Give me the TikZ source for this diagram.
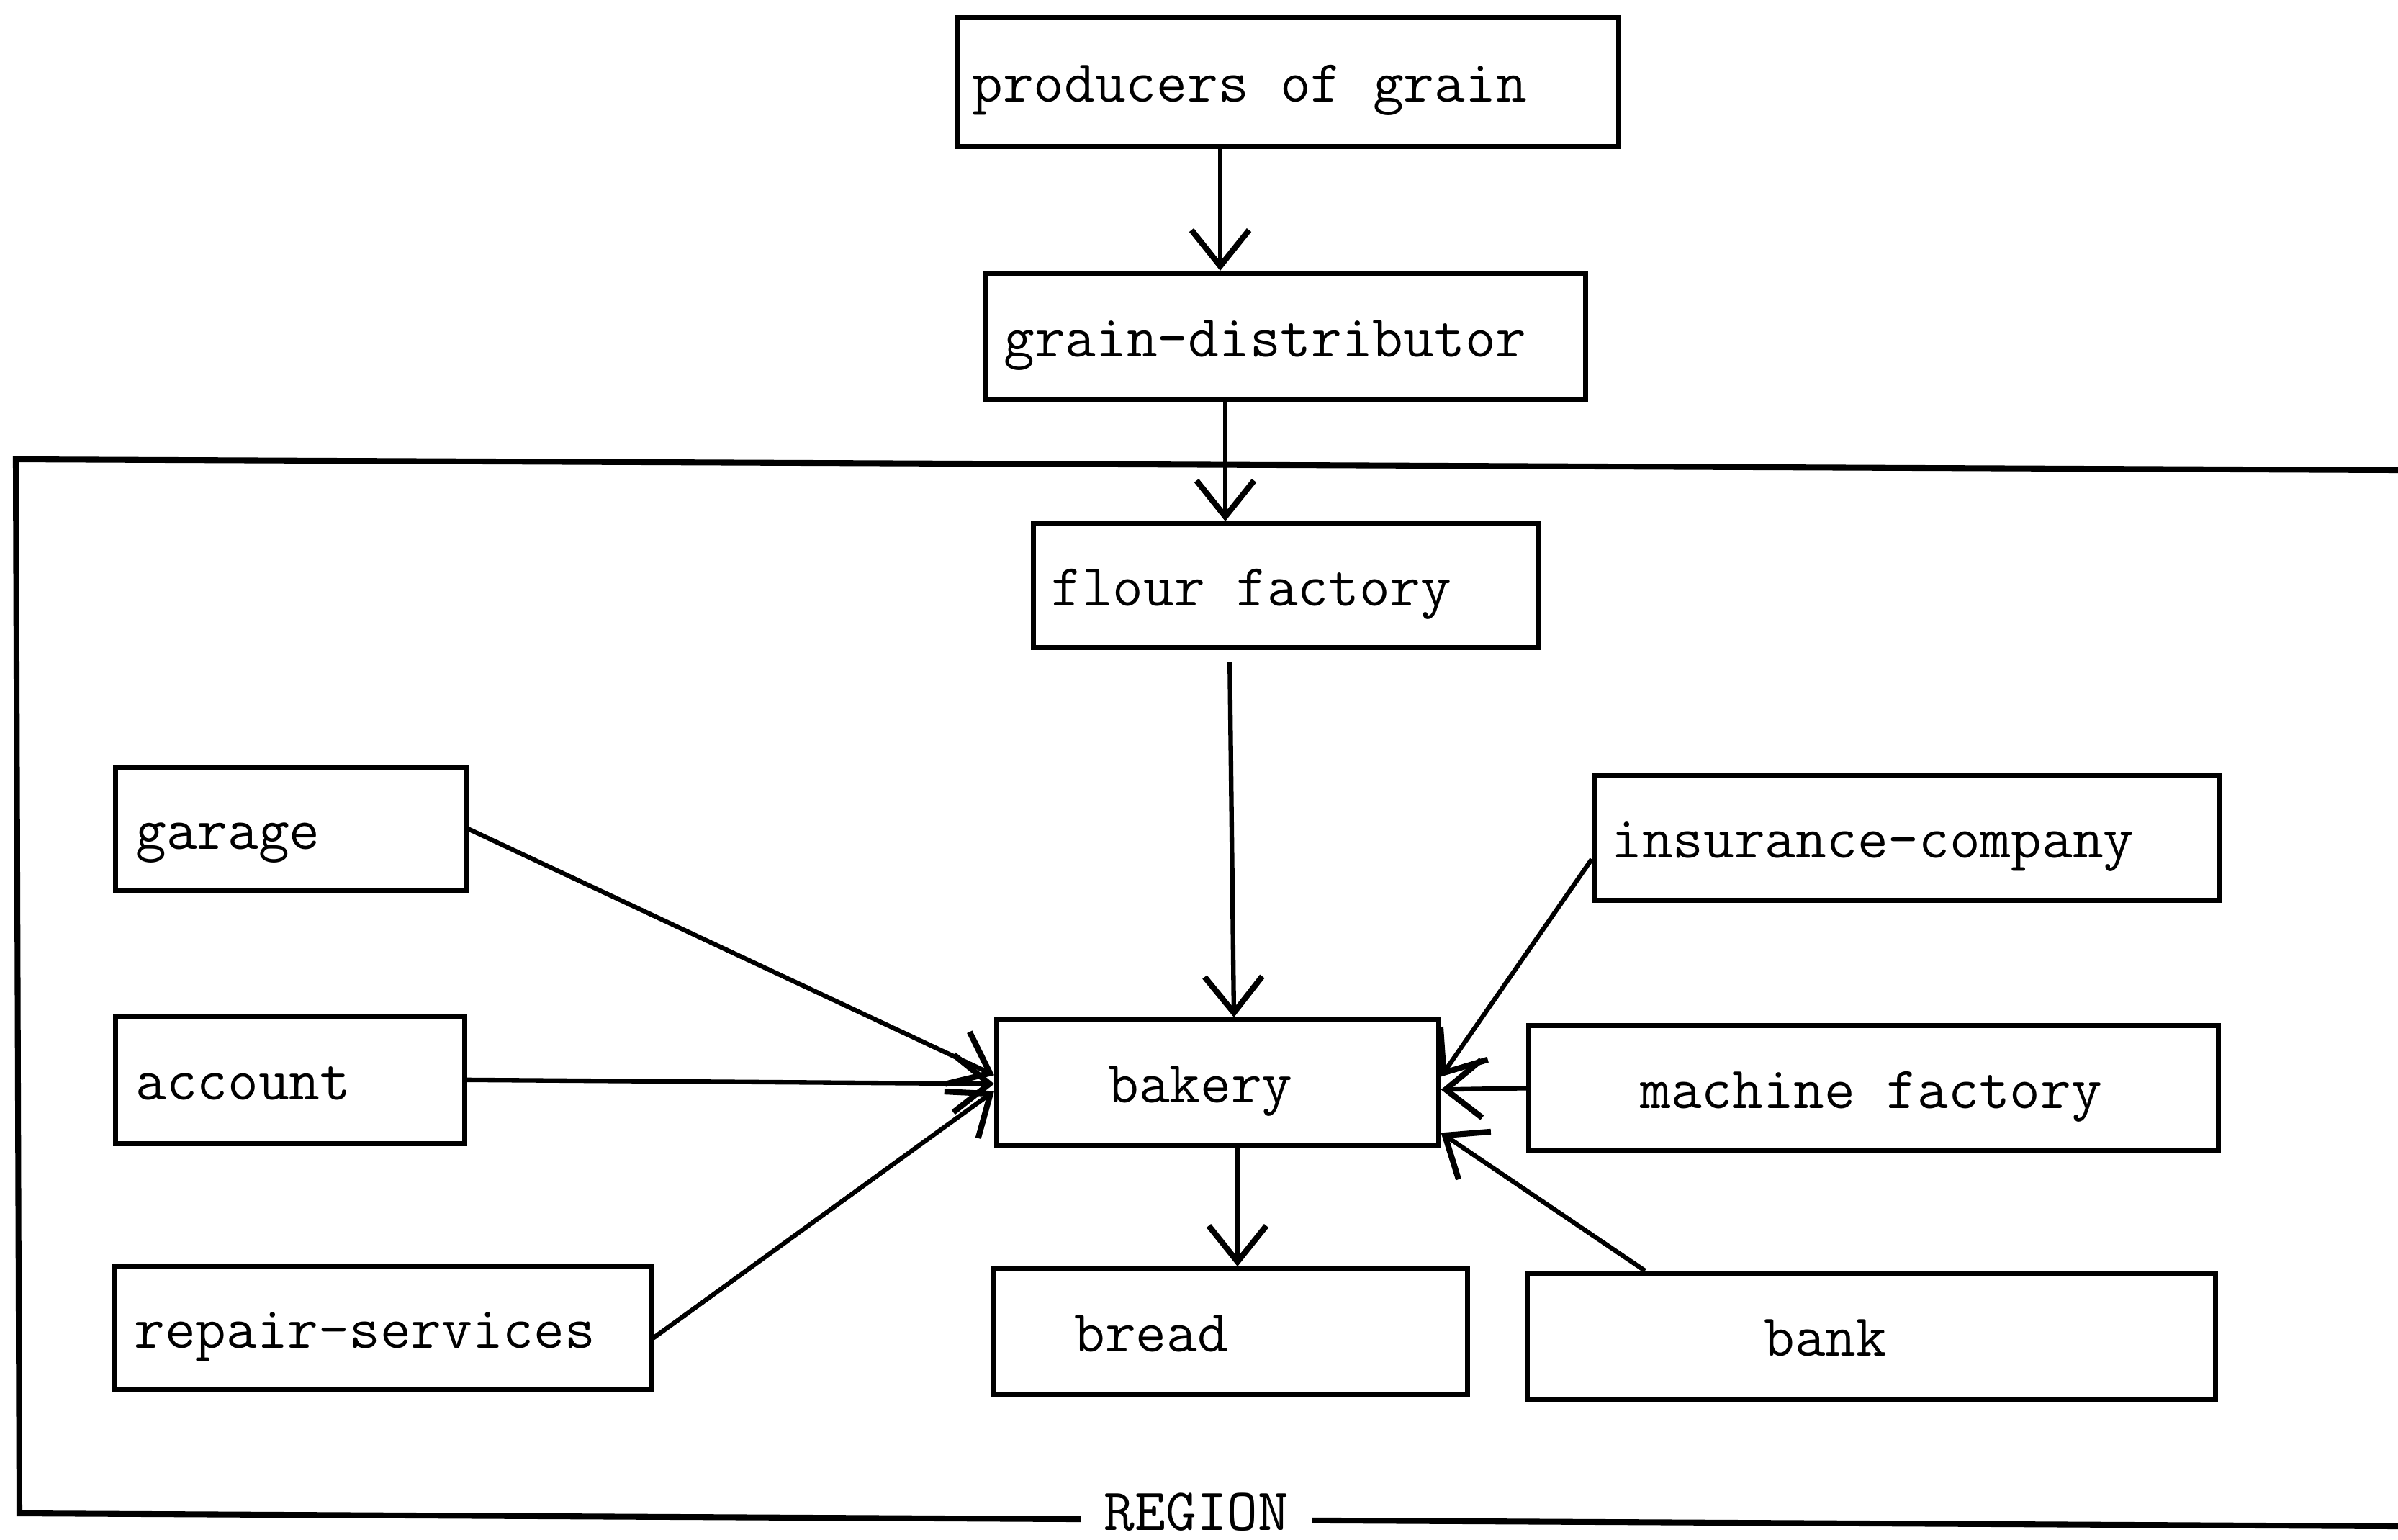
\documentclass[tikz,border=0pt]{standalone}
\usepackage{fontspec}
\usetikzlibrary{arrows.meta,calc}
\newcommand\myttfont{\fontsize{23.6pt}{28pt}\selectfont\ttfamily}
\newcommand\tsp{\kern0.525em\relax}
\tikzset{
  tfont/.style={font=\myttfont},
  box/.style={draw, line width=1.9pt, rectangle, inner xsep=0pt, inner ysep=0pt,
    align=left, anchor=north west, tfont,
    text height=0.7cm, text depth=0.14cm},
  conn/.style={line width=1.8pt, -{Straight Barb[length=0.5cm, width=0.8cm, line width=2.3pt]}},
  frame/.style={line width=2.3pt},
  regionlbl/.style={fill=white, inner xsep=0.33cm, inner ysep=0.05cm, anchor=base, tfont},
}
\begin{document}
\begin{tikzpicture}
\useasboundingbox (0,0) rectangle (33.31,-21.38);
\fill[white] (0,0) rectangle (33.31,-21.38);

% region frame
\draw[frame] (33.31,-6.53) -- (0.22,-6.38) -- (0.27,-21.02) -- (33.31,-21.2);
\node[regionlbl] (region) at (16.62,-21.25) {REGION};

% boxes
\node[box, text width=9.19cm, minimum height=1.79cm] (pg) at (13.26,-0.21) {\hspace*{0.21cm}producers\tsp of\tsp grain};
\node[box, text width=8.33cm, minimum height=1.76cm] (gd) at (13.66,-3.76) {\hspace*{0.25cm}grain-distributor};
\node[box, text width=7.01cm, minimum height=1.72cm] (ff) at (14.32,-7.24) {\hspace*{0.25cm}flour\tsp factory};
\node[box, text width=4.87cm, minimum height=1.72cm] (garage) at (1.57,-10.62) {\hspace*{0.28cm}garage};
\node[box, text width=4.85cm, minimum height=1.77cm] (account) at (1.57,-14.08) {\hspace*{0.28cm}account};
\node[box, text width=7.46cm, minimum height=1.72cm] (repair) at (1.55,-17.55) {\hspace*{0.28cm}repair-services};
\node[box, text width=6.14cm, minimum height=1.74cm] (bakery) at (13.81,-14.13) {\hspace*{1.55cm}bakery};
\node[box, text width=6.58cm, minimum height=1.74cm] (bread) at (13.77,-17.59) {\hspace*{1.12cm}bread};
\node[box, text width=8.69cm, minimum height=1.74cm] (insurance) at (22.11,-10.73) {\hspace*{0.24cm}insurance-company};
\node[box, text width=9.58cm, minimum height=1.74cm] (machine) at (21.20,-14.21) {\hspace*{1.55cm}machine\tsp factory};
\node[box, text width=9.56cm, minimum height=1.75cm] (bank) at (21.18,-17.65) {\hspace*{3.29cm}bank};

% connectors
\draw[conn] (16.95,0 |- pg.south) -- (16.95,0 |- gd.north);
\draw[conn] (17.02,0 |- gd.south) -- (17.02,0 |- ff.north);
\draw[conn, shorten <=0.17cm] (17.08,0 |- ff.south) -- (17.14,0 |- bakery.north);
\draw[conn] (garage.east) -- ([yshift=0.10cm]bakery.west);
\draw[conn] (account.east) -- ([yshift=-0.02cm]bakery.west);
\draw[conn] ([yshift=-0.14cm]repair.east) -- ([yshift=-0.12cm]bakery.west);
\draw[conn] ([yshift=-0.30cm]insurance.west) -- ([yshift=0.08cm]bakery.east);
\draw[conn] (machine.west) -- ([yshift=-0.10cm]bakery.east);
\draw[conn] (22.85,0 |- bank.north) -- ([yshift=-0.70cm]bakery.east);
\draw[conn] (17.19,0 |- bakery.south) -- (17.19,0 |- bread.north);
\end{tikzpicture}
\end{document}
